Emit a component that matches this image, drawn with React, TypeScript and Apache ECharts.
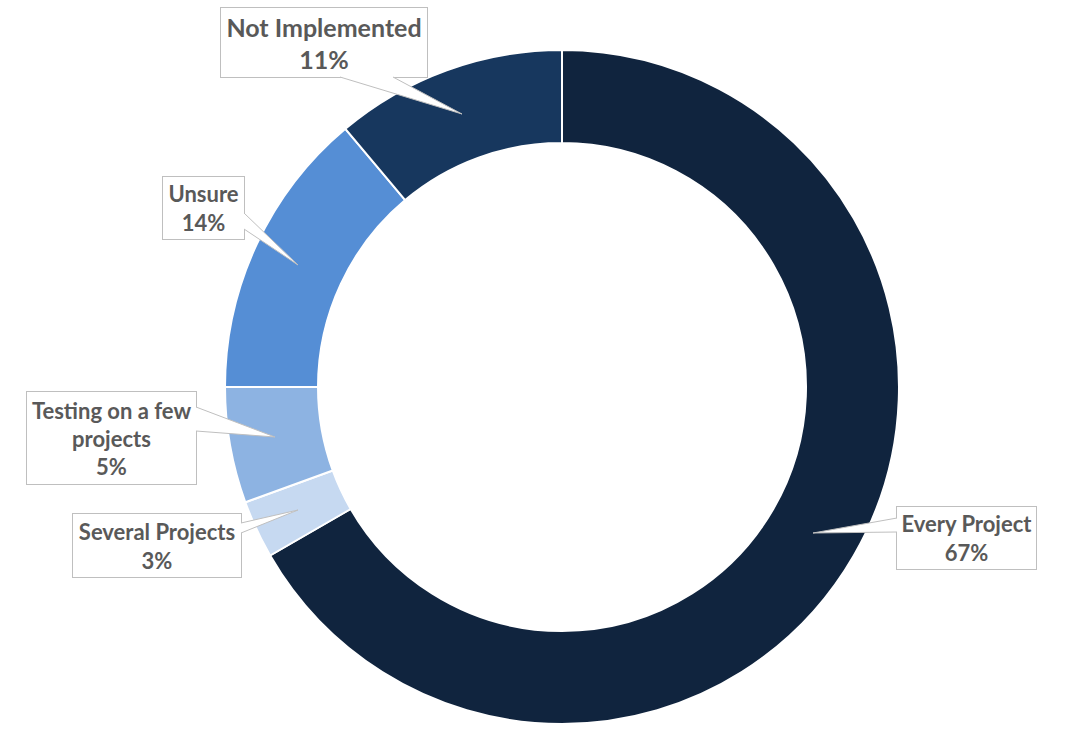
import React, { useEffect, useRef } from "react";
import * as echarts from "echarts";

const categories = ["Every Project", "Several Projects", "Testing on a few\nprojects", "Unsure", "Not Implemented"];
// response counts (shares: 66.7%, 2.8%, 5.6%, 13.9%, 11.1%)
const values = [24, 1, 2, 5, 4];
const colors = ["#10243E", "#C6D9F1", "#8DB3E2", "#558ED5", "#17375E"];

// label box centers / sizes (layout only)
const boxes = [
  { cx: 966.5, cy: 538, w: 139, h: 62, fs: 22, lh: 29 },
  { cx: 157, cy: 545.5, w: 168, h: 63, fs: 22, lh: 29 },
  { cx: 111.5, cy: 438, w: 169, h: 92, fs: 22, lh: 28 },
  { cx: 203.5, cy: 208, w: 81, h: 62, fs: 22, lh: 29 },
  { cx: 324, cy: 42.5, w: 206, h: 69, fs: 25, lh: 32 },
];

// callout pointers: [base1, base2, tip]
const pointers = [
  [[897, 518], [897, 532], [813, 533]],
  [[241, 523], [241, 533], [298, 510]],
  [[196, 407], [196, 431], [275, 437]],
  [[244, 213], [244, 229], [298, 265]],
  [[340, 77], [393, 77], [462, 114]],
];

export default function App() {
  const ref = useRef<HTMLDivElement>(null);
  useEffect(() => {
    if (!ref.current) return;
    const chart = echarts.init(ref.current, null, { renderer: "svg" });
    const graphics: any[] = [];
    pointers.forEach((p) => {
      graphics.push({
        type: "polygon",
        z: 100,
        shape: { points: p },
        style: { fill: "#ffffff", stroke: null },
      });
      graphics.push({
        type: "polyline",
        z: 101,
        shape: { points: [p[0], p[2], p[1]] },
        style: { stroke: "#BFBFBF", lineWidth: 1, fill: null },
      });
    });
    chart.setOption({
      animation: false,
      backgroundColor: "#ffffff",
      graphic: graphics,
      series: [
        {
          type: "pie",
          center: [562, 387],
          radius: [244, 337],
          startAngle: 90,
          clockwise: true,
          percentPrecision: 0,
          avoidLabelOverlap: false,
          itemStyle: { borderColor: "#ffffff", borderWidth: 2 },
          labelLine: { show: false },
          z: 2,
          label: {
            show: true,
            position: "outside",
            formatter: "{b}\n{d}%",
            color: "#595959",
            fontWeight: "bold",
            fontFamily: "Lato, 'Liberation Sans', sans-serif",
            backgroundColor: "#ffffff",
            borderColor: "#BFBFBF",
            borderWidth: 1,
            align: "center",
            verticalAlign: "middle",
          },
          labelLayout: (params: any) => {
            const b = boxes[params.dataIndex];
            return {
              x: b.cx,
              y: b.cy,
              align: "center",
              verticalAlign: "middle",
              hideOverlap: false,
              moveOverlap: null,
            };
          },
          data: categories.map((name, i) => ({
            name,
            value: values[i],
            itemStyle: { color: colors[i] },
            label: {
              width: boxes[i].w,
              height: boxes[i].h,
              fontSize: boxes[i].fs,
              lineHeight: boxes[i].lh,
            },
          })),
        },
      ],
    });
    return () => chart.dispose();
  }, []);
  return (
    <div
      ref={ref}
      style={{ position: "fixed", left: 0, top: 0, width: 1068, height: 744, background: "#fff" }}
    />
  );
}
